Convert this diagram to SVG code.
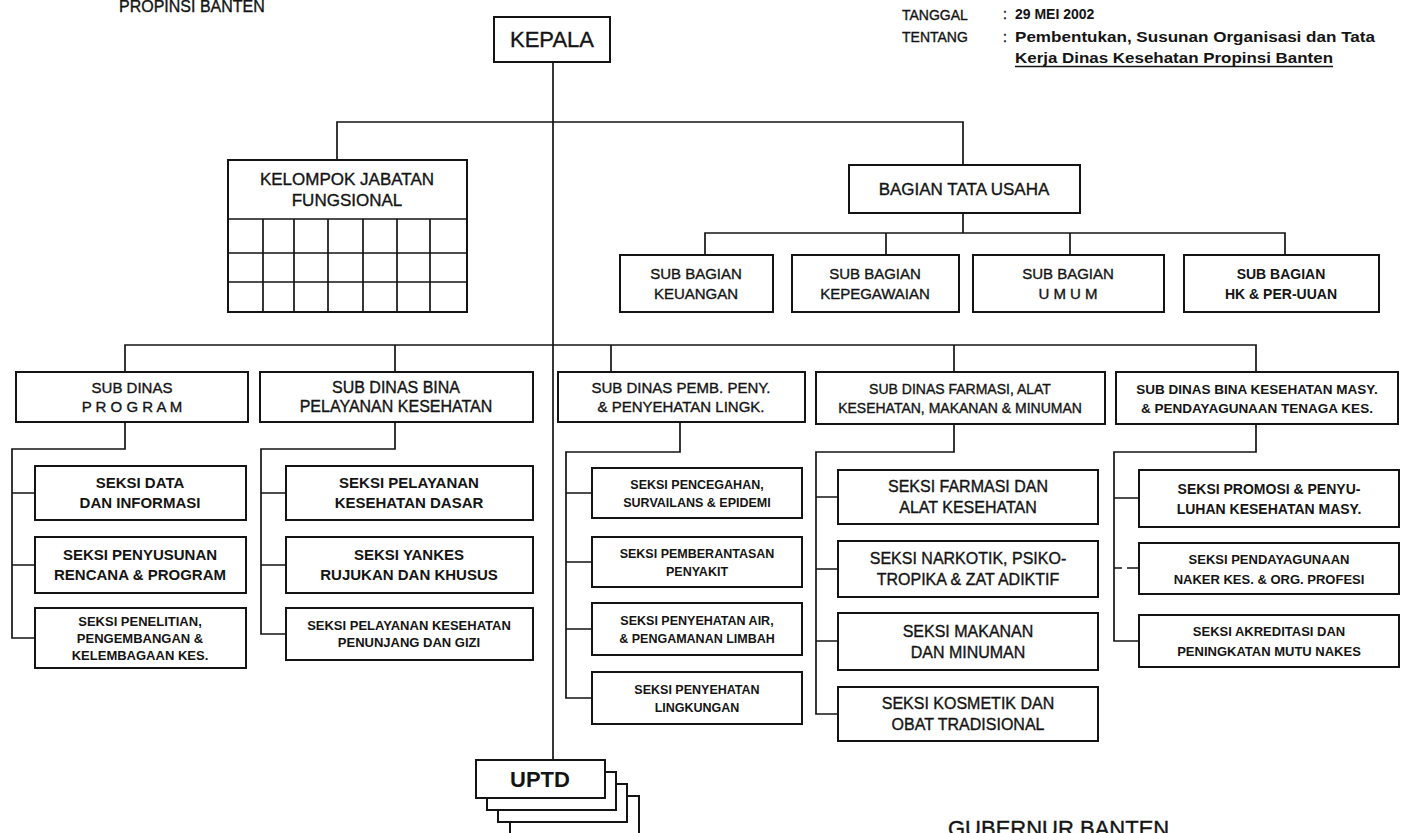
<svg xmlns="http://www.w3.org/2000/svg" width="1401" height="833" viewBox="0 0 1401 833">
<style>
.box{fill:#fff;stroke:#141414;stroke-width:2}
.ln{fill:none;stroke:#141414;stroke-width:1.7}
text{font-family:"Liberation Sans",Arial,sans-serif;fill:#141414;text-anchor:middle;stroke:#141414;stroke-width:0.35}
.b{font-weight:bold;stroke-width:0}
.l{text-anchor:start}
</style>
<rect width="1401" height="833" fill="#fff"/>
<g id="header">
<text class="l" x="119" y="12" font-size="16">PROPINSI  BANTEN</text>
<text class="l" x="902" y="20" font-size="14">TANGGAL</text>
<text class="l" x="1003" y="19" font-size="14">:</text>
<text class="l b" x="1015" y="19" font-size="14">29 MEI 2002</text>
<text class="l" x="902" y="42" font-size="14">TENTANG</text>
<text class="l" x="1003" y="42" font-size="14">:</text>
<text class="l b" x="1015" y="42" font-size="14" textLength="360" lengthAdjust="spacingAndGlyphs">Pembentukan, Susunan Organisasi dan Tata</text>
<text class="l b" x="1015" y="63" font-size="14" textLength="318" lengthAdjust="spacingAndGlyphs">Kerja Dinas Kesehatan Propinsi Banten</text>
<line x1="1015" y1="66.5" x2="1333" y2="66.5" stroke="#141414" stroke-width="1.3"/>
</g>
<g id="connectors">
<path class="ln" d="M553 62V760"/>
<path class="ln" d="M337 160V122H963V165"/>
<path class="ln" d="M963 213V233M705 255V233H1285V255M886 233V255M1070 233V255"/>
<path class="ln" d="M125 372V345H1256V372M395 345V372M611 345V372M954 345V372"/>
<path class="ln" d="M125 422V449H12V638H35M12 493H35M12 565H35"/>
<path class="ln" d="M395 422V449H261V634H286M261 493H286M261 565H286"/>
<path class="ln" d="M680 422V452H566V698H592M566 493H592M566 562H592M566 629H592"/>
<path class="ln" d="M954 424V452H816V714H838M816 497H838M816 569H838M816 641H838"/>
<path class="ln" d="M1256 424V452H1114V641H1139M1114 498H1139M1114 568H1122M1127 568H1139"/>
</g>
<g id="kepala">
<rect class="box" x="494" y="17" width="116" height="45"/>
<text x="552" y="47" font-size="22">KEPALA</text>
</g>
<g id="kelompok">
<rect class="box" x="228" y="160" width="239" height="152"/>
<path class="ln" d="M228 219H467M228 253H467M228 282H467M263 219V312M294 219V312M328 219V312M363 219V312M397 219V312M430 219V312"/>
<text x="347" y="185" font-size="17">KELOMPOK JABATAN</text>
<text x="347" y="206" font-size="17">FUNGSIONAL</text>
</g>
<g id="bagian-tu">
<rect class="box" x="849" y="165" width="231" height="48"/>
<text x="964" y="195" font-size="17">BAGIAN TATA USAHA</text>
</g>
<g id="sb-keuangan">
<rect class="box" x="620" y="255" width="153" height="57"/>
<text x="696" y="279" font-size="15">SUB BAGIAN</text>
<text x="696" y="299" font-size="15">KEUANGAN</text>
</g>
<g id="sb-kepegawaian">
<rect class="box" x="792" y="255" width="167" height="57"/>
<text x="875" y="279" font-size="15">SUB BAGIAN</text>
<text x="875" y="299" font-size="15">KEPEGAWAIAN</text>
</g>
<g id="sb-umum">
<rect class="box" x="973" y="255" width="191" height="57"/>
<text x="1068" y="279" font-size="15">SUB BAGIAN</text>
<text x="1068" y="299" font-size="15">U  M  U  M</text>
</g>
<g id="sb-hk">
<rect class="box" x="1184" y="255" width="195" height="57"/>
<text class="b" x="1281" y="279" font-size="14">SUB BAGIAN</text>
<text class="b" x="1281" y="299" font-size="14">HK &amp; PER-UUAN</text>
</g>
<g id="sd-program">
<rect class="box" x="16" y="372" width="232" height="50"/>
<text x="132" y="393" font-size="15">SUB DINAS</text>
<text x="132" y="412" font-size="15">P R O G R A M</text>
</g>
<g id="sd-bina-pelayanan">
<rect class="box" x="260" y="372" width="273" height="50"/>
<text x="396" y="393" font-size="16">SUB DINAS BINA</text>
<text x="396" y="412" font-size="16">PELAYANAN KESEHATAN</text>
</g>
<g id="sd-pemb-peny">
<rect class="box" x="558" y="372" width="247" height="50"/>
<text x="681" y="393" font-size="15">SUB DINAS PEMB. PENY.</text>
<text x="681" y="412" font-size="15">&amp; PENYEHATAN LINGK.</text>
</g>
<g id="sd-farmasi">
<rect class="box" x="816" y="372" width="289" height="52"/>
<text x="960" y="394" font-size="14">SUB DINAS FARMASI, ALAT</text>
<text x="960" y="413" font-size="14">KESEHATAN, MAKANAN &amp; MINUMAN</text>
</g>
<g id="sd-bina-kesmas">
<rect class="box" x="1116" y="372" width="282" height="52"/>
<text class="b" x="1257" y="394" font-size="13.5">SUB DINAS BINA KESEHATAN MASY.</text>
<text class="b" x="1257" y="413" font-size="13.5">&amp; PENDAYAGUNAAN TENAGA KES.</text>
</g>
<g id="s-data">
<rect class="box" x="35" y="466" width="211" height="54"/>
<text class="b" x="140" y="488" font-size="15">SEKSI  DATA</text>
<text class="b" x="140" y="508" font-size="15">DAN INFORMASI</text>
</g>
<g id="s-penyusunan">
<rect class="box" x="35" y="537" width="211" height="56"/>
<text class="b" x="140" y="560" font-size="15">SEKSI  PENYUSUNAN</text>
<text class="b" x="140" y="580" font-size="15">RENCANA &amp; PROGRAM</text>
</g>
<g id="s-penelitian">
<rect class="box" x="35" y="608" width="211" height="60"/>
<text class="b" x="140" y="626" font-size="13">SEKSI  PENELITIAN,</text>
<text class="b" x="140" y="643" font-size="13">PENGEMBANGAN &amp;</text>
<text class="b" x="140" y="660" font-size="13">KELEMBAGAAN KES.</text>
</g>
<g id="s-yankes-dasar">
<rect class="box" x="286" y="466" width="247" height="54"/>
<text class="b" x="409" y="488" font-size="15">SEKSI  PELAYANAN</text>
<text class="b" x="409" y="508" font-size="15">KESEHATAN DASAR</text>
</g>
<g id="s-yankes-rujukan">
<rect class="box" x="286" y="537" width="247" height="56"/>
<text class="b" x="409" y="560" font-size="15">SEKSI  YANKES</text>
<text class="b" x="409" y="580" font-size="15">RUJUKAN DAN KHUSUS</text>
</g>
<g id="s-yankes-penunjang">
<rect class="box" x="286" y="608" width="247" height="52"/>
<text class="b" x="409" y="630" font-size="13">SEKSI PELAYANAN KESEHATAN</text>
<text class="b" x="409" y="647" font-size="13">PENUNJANG DAN GIZI</text>
</g>
<g id="s-pencegahan">
<rect class="box" x="592" y="468" width="210" height="50"/>
<text class="b" x="697" y="488.5" font-size="12.5">SEKSI  PENCEGAHAN,</text>
<text class="b" x="697" y="506.5" font-size="12.5">SURVAILANS &amp; EPIDEMI</text>
</g>
<g id="s-pemberantasan">
<rect class="box" x="592" y="537" width="210" height="50"/>
<text class="b" x="697" y="557.5" font-size="12.5">SEKSI  PEMBERANTASAN</text>
<text class="b" x="697" y="575.5" font-size="12.5">PENYAKIT</text>
</g>
<g id="s-penyehatan-air">
<rect class="box" x="592" y="603" width="210" height="52"/>
<text class="b" x="697" y="624.5" font-size="12.5">SEKSI PENYEHATAN AIR,</text>
<text class="b" x="697" y="642.5" font-size="12.5">&amp; PENGAMANAN LIMBAH</text>
</g>
<g id="s-penyehatan-lingk">
<rect class="box" x="592" y="672" width="210" height="52"/>
<text class="b" x="697" y="693.5" font-size="12.5">SEKSI PENYEHATAN</text>
<text class="b" x="697" y="711.5" font-size="12.5">LINGKUNGAN</text>
</g>
<g id="s-farmasi">
<rect class="box" x="838" y="470" width="260" height="54"/>
<text x="968" y="492" font-size="16">SEKSI  FARMASI DAN</text>
<text x="968" y="513" font-size="16">ALAT KESEHATAN</text>
</g>
<g id="s-narkotik">
<rect class="box" x="838" y="541" width="260" height="56"/>
<text x="968" y="564" font-size="16">SEKSI  NARKOTIK, PSIKO-</text>
<text x="968" y="585" font-size="16">TROPIKA &amp; ZAT ADIKTIF</text>
</g>
<g id="s-makanan">
<rect class="box" x="838" y="613" width="260" height="57"/>
<text x="968" y="637" font-size="16">SEKSI  MAKANAN</text>
<text x="968" y="658" font-size="16">DAN MINUMAN</text>
</g>
<g id="s-kosmetik">
<rect class="box" x="838" y="687" width="260" height="54"/>
<text x="968" y="709" font-size="16">SEKSI  KOSMETIK DAN</text>
<text x="968" y="730" font-size="16">OBAT TRADISIONAL</text>
</g>
<g id="s-promosi">
<rect class="box" x="1139" y="470" width="260" height="57"/>
<text class="b" x="1269" y="493.5" font-size="14">SEKSI  PROMOSI &amp; PENYU-</text>
<text class="b" x="1269" y="513.5" font-size="14">LUHAN KESEHATAN MASY.</text>
</g>
<g id="s-pendayagunaan">
<rect class="box" x="1139" y="543" width="260" height="51"/>
<text class="b" x="1269" y="563.5" font-size="13">SEKSI  PENDAYAGUNAAN</text>
<text class="b" x="1269" y="583.5" font-size="13">NAKER KES. &amp; ORG. PROFESI</text>
</g>
<g id="s-akreditasi">
<rect class="box" x="1139" y="615" width="260" height="52"/>
<text class="b" x="1269" y="636" font-size="13">SEKSI  AKREDITASI DAN</text>
<text class="b" x="1269" y="656" font-size="13">PENINGKATAN MUTU NAKES</text>
</g>
<g id="uptd">
<rect class="box" x="510" y="796" width="129" height="38"/>
<rect class="box" x="498" y="784" width="129" height="38"/>
<rect class="box" x="487" y="772" width="129" height="38"/>
<rect class="box" x="476" y="760" width="129" height="38"/>
<text class="b" x="540" y="787" font-size="22">UPTD</text>
</g>
<g id="footer">
<text class="l" x="948" y="836" font-size="22">GUBERNUR BANTEN</text>
</g>
</svg>
